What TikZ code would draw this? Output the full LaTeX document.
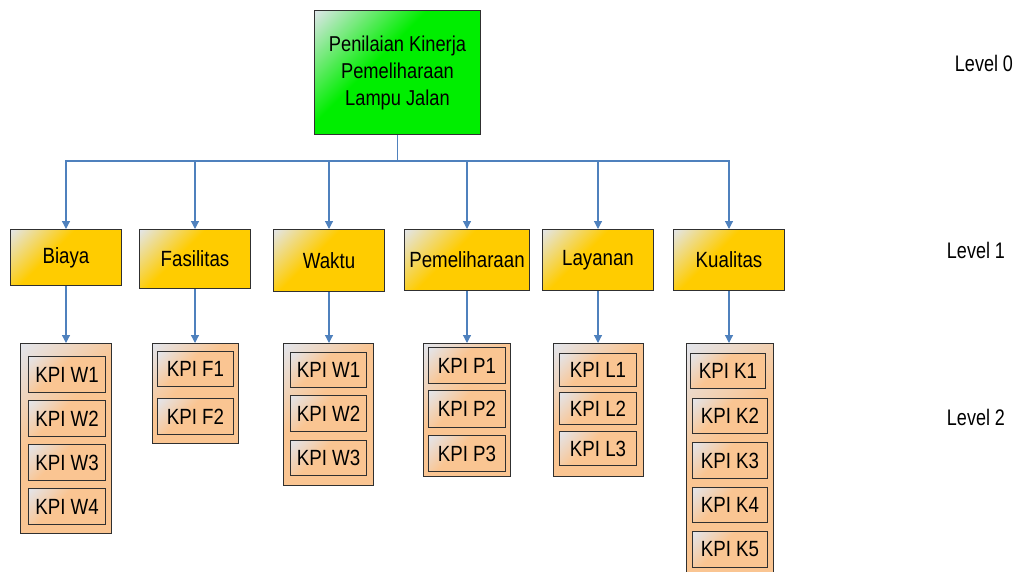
\documentclass[tikz,border=0pt]{standalone}
\usepackage{fontspec}
\setmainfont{Liberation Sans}[FakeStretch=0.85]
\newfontfamily\lvlfont{Liberation Sans}[FakeStretch=0.8]
\usetikzlibrary{arrows.meta}
\definecolor{cstart}{HTML}{E2E6EE}
\definecolor{cgreen}{HTML}{00EE00}
\definecolor{cyellow}{HTML}{FFCC00}
\definecolor{cpeach}{HTML}{FAC592}
\definecolor{cblue}{HTML}{4F81BD}
\definecolor{cborder}{HTML}{303030}
\pgfdeclarehorizontalshading{greenshade}{100bp}{color(0bp)=(cstart); color(14bp)=(cstart); color(42bp)=(cgreen); color(100bp)=(cgreen)}
\pgfdeclarehorizontalshading{yellowshade}{100bp}{color(0bp)=(cstart); color(14bp)=(cstart); color(42bp)=(cyellow); color(100bp)=(cyellow)}
\pgfdeclarehorizontalshading{peachshade}{100bp}{color(0bp)=(cstart); color(14bp)=(cstart); color(42bp)=(cpeach); color(100bp)=(cpeach)}
\tikzset{
  base/.style={draw=cborder, line width=1pt, inner sep=0pt, align=center,
    font=\fontsize{22}{27}\selectfont, anchor=north west, shading angle=-45},
  topbox/.style={base, shading=greenshade, font=\fontsize{21.5}{27}\selectfont},
  lvlone/.style={base, shading=yellowshade},
  contbox/.style={base, shading=peachshade},
  kpibox/.style={base, shading=peachshade},
  conn/.style={draw=cblue, line width=1.2pt, -{Triangle[width=8pt,length=8pt]}},
  lvltext/.style={font=\lvlfont\fontsize{22.5}{25}\selectfont, inner sep=0pt},
}
\begin{document}
\begin{tikzpicture}[x=1pt,y=-1pt]
\useasboundingbox (0,0) rectangle (1015,571);
% level 0
\node[topbox, minimum width=166, minimum height=124] (top) at (314,10)
  {Penilaian Kinerja\\Pemeliharaan\\Lampu Jalan};
% level 1
\node[lvlone, minimum width=111, minimum height=56] (biaya) at (10,229) {Biaya};
\node[lvlone, minimum width=111, minimum height=59] (fas) at (139,229) {Fasilitas};
\node[lvlone, minimum width=111, minimum height=62] (waktu) at (273,229) {Waktu};
\node[lvlone, minimum width=125, minimum height=61] (pem) at (404,229) {Pemeliharaan};
\node[lvlone, minimum width=111, minimum height=61] (lay) at (542,229) {Layanan};
\node[lvlone, minimum width=111, minimum height=61] (kua) at (673,229) {Kualitas};
% containers
\node[contbox, minimum width=91, minimum height=190] (cb) at (20,343) {};
\node[contbox, minimum width=86, minimum height=100] (cf) at (152,343) {};
\node[contbox, minimum width=90, minimum height=142] (cw) at (283,343) {};
\node[contbox, minimum width=87, minimum height=133] (cp) at (423,343) {};
\node[contbox, minimum width=90, minimum height=133] (cl) at (553,343) {};
\node[contbox, minimum width=87, minimum height=245] (ck) at (686,343) {};
% KPI boxes
\node[kpibox, minimum width=77, minimum height=36] (b1) at (28,356) {KPI W1};
\node[kpibox, minimum width=77, minimum height=36] (b2) at (28,400) {KPI W2};
\node[kpibox, minimum width=77, minimum height=36] (b3) at (28,444) {KPI W3};
\node[kpibox, minimum width=77, minimum height=36] (b4) at (28,488) {KPI W4};
\node[kpibox, minimum width=76, minimum height=35] (f1) at (157,351) {KPI F1};
\node[kpibox, minimum width=76, minimum height=36] (f2) at (157,398) {KPI F2};
\node[kpibox, minimum width=76, minimum height=35] (w1) at (290,352) {KPI W1};
\node[kpibox, minimum width=76, minimum height=36] (w2) at (290,395) {KPI W2};
\node[kpibox, minimum width=76, minimum height=35] (w3) at (290,440) {KPI W3};
\node[kpibox, minimum width=77, minimum height=36] (p1) at (428,347) {KPI P1};
\node[kpibox, minimum width=77, minimum height=37] (p2) at (428,390) {KPI P2};
\node[kpibox, minimum width=77, minimum height=36] (p3) at (428,435) {KPI P3};
\node[kpibox, minimum width=77, minimum height=33] (l1) at (559,353) {KPI L1};
\node[kpibox, minimum width=77, minimum height=32] (l2) at (559,392) {KPI L2};
\node[kpibox, minimum width=77, minimum height=34] (l3) at (559,431) {KPI L3};
\node[kpibox, minimum width=75, minimum height=35] (k1) at (690,353) {KPI K1};
\node[kpibox, minimum width=75, minimum height=35] (k2) at (692,398) {KPI K2};
\node[kpibox, minimum width=75, minimum height=36] (k3) at (692,442) {KPI K3};
\node[kpibox, minimum width=75, minimum height=35] (k4) at (692,487) {KPI K4};
\node[kpibox, minimum width=75, minimum height=36] (k5) at (692,531) {KPI K5};
% level labels
\node[lvltext] (lv0) at (984,63) {Level 0};
\node[lvltext] (lv1) at (976,250) {Level 1};
\node[lvltext] (lv2) at (976,417) {Level 2};
% connectors level 0 -> level 1
\foreach \n in {biaya,fas,waktu,pem,lay,kua}{
  \draw[conn] (top.south) -- ++(0,26) -| (\n.north);
}
% connectors level 1 -> containers
\draw[conn] (biaya.south) -- (biaya.south |- cb.north);
\draw[conn] (fas.south) -- (fas.south |- cf.north);
\draw[conn] (waktu.south) -- (waktu.south |- cw.north);
\draw[conn] (pem.south) -- (pem.south |- cp.north);
\draw[conn] (lay.south) -- (lay.south |- cl.north);
\draw[conn] (kua.south) -- (kua.south |- ck.north);
\end{tikzpicture}
\end{document}
